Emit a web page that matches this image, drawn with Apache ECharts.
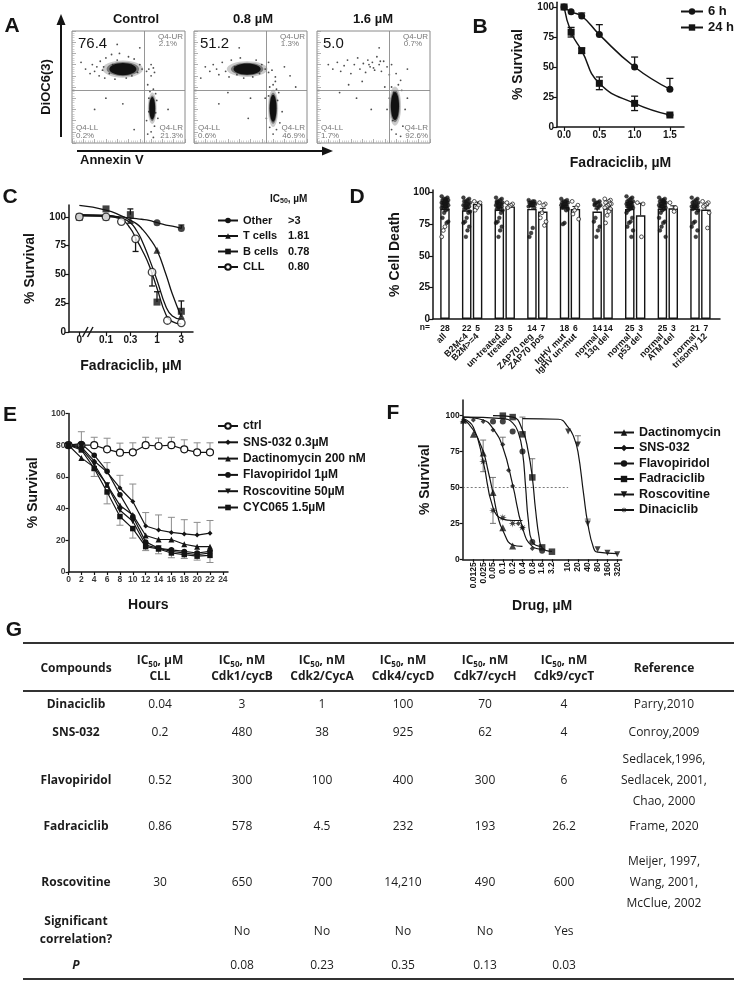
<!DOCTYPE html>
<html><head><meta charset="utf-8">
<script src="https://cdn.jsdelivr.net/npm/echarts@6/dist/echarts.min.js"></script>
<style>html,body{margin:0;padding:0;background:#fff}#c{width:734px;height:983px}</style>
</head><body><div id="c"></div>
<script>
// ================= DATA =================
// A: flow cytometry
const flowTitles = ['Control', '0.8 µM', '1.6 µM'];
const flowUL = ['76.4', '51.2', '5.0'];
const flowUR = ['2.1%', '1.3%', '0.7%'];
const flowLL = ['0.2%', '0.6%', '1.7%'];
const flowLR = ['21.3%', '46.9%', '92.6%'];
const flowGate = [64, 47];
// dense populations: [cx, cy, rx, ry]
const flowBlobs = [
  [[45, 66, 12, 5.5], [71, 31, 2.6, 10]],
  [[47, 66, 12, 5], [70, 31, 3, 12]],
  [[69, 33, 3.6, 12.5]]
];
const flowDots = [
  [[12,66],[16,62],[18,70],[20,64],[22,68],[24,60],[25,73],[27,65],[29,58],[30,76],[33,62],[35,79],[38,57],[40,74],[42,80],[48,58],[50,77],[53,60],[55,75],[58,63],[60,70],[62,66],[66,64],[68,66],[70,60],[72,67],[73,63],[70,70],[67,52],[69,46],[72,48],[74,44],[68,40],[75,38],[66,20],[73,15],[70,10],[76,22],[72,5],[67,8],[30,40],[45,35],[55,12],[20,30],[85,30],[40,88],[60,85],[8,72],[68,28],[74,27],[36,70],[52,70],[28,68]],
  [[10,68],[14,64],[17,70],[20,66],[22,61],[25,72],[28,64],[31,59],[33,74],[36,68],[38,61],[41,76],[44,58],[52,59],[55,74],[58,62],[60,70],[63,66],[66,63],[69,65],[72,59],[66,72],[80,68],[85,60],[70,52],[73,48],[67,50],[75,45],[72,55],[63,40],[50,40],[70,8],[73,12],[67,14],[76,18],[64,22],[78,28],[30,45],[22,35],[48,22],[90,50],[40,85],[6,58],[66,42],[74,38]],
  [[10,70],[14,66],[18,72],[21,64],[24,69],[27,74],[30,62],[33,70],[36,76],[38,66],[41,71],[43,63],[45,74],[47,68],[49,72],[51,65],[53,77],[55,70],[57,64],[59,73],[62,68],[64,61],[66,70],[70,62],[74,56],[80,66],[28,52],[40,55],[60,50],[66,50],[72,52],[75,47],[68,45],[64,40],[62,30],[78,30],[76,15],[66,12],[70,8],[74,6],[67,20],[80,40],[48,30],[35,40],[20,45],[55,85],[46,70],[50,67],[56,73]]
];

// B
const bDose = [0, 0.1, 0.25, 0.5, 1.0, 1.5];
const b6h = [100, 96, 92.5, 77, 50, 31.5];
const b6hErrUp = [0, 0, 2.5, 8.3, 8.3, 9];
const b24h = [100, 79, 63.6, 36.4, 19.7, 10];
const b24hErr = [0, 4, 2.2, 5.3, 6, 0.5];

// C
const cNames = ['Other', 'T cells', 'B cells', 'CLL'];
const cIC50 = ['>3', '1.81', '0.78', '0.80'];
const cOtherDose = [0, 0.1, 1, 3];      const cOther = [100, 100, 95, 90];   const cOtherErr = [0, 0, 0, 3];
const cTDose = [0, 0.1, 0.3, 1, 3];     const cT = [100, 100, 97, 71, 14];  const cTErr = [0, 0, 0, 0, 0];
const cBDose = [0, 0.1, 0.3, 1, 3];     const cB = [100, 107, 102, 26, 18]; const cBErr = [0, 0, 5, 9, 9];
const cCLLDose = [0, 0.1, 0.2, 0.38, 0.8, 1.6, 3]; const cCLL = [100, 100, 96, 81, 52, 10, 8]; const cCLLErr = [0, 0, 0, 11, 12, 0, 0];
// fitted curves
const cFitDose = [0, 0.1, 0.2, 0.3, 0.4, 0.5, 0.7, 1, 1.5, 2, 3];
const cOtherFit = [101.5, 101, 100, 99, 98.5, 98, 97, 95, 93, 92, 90];
const cTFit = [110, 106, 101, 97, 94, 90, 82, 71, 50, 33, 13];
const cBFit = [102, 101.5, 99, 95, 88, 80, 64, 45, 22, 14, 11];
const cCLLFit = [101, 100.5, 98, 90, 80, 72, 58, 38, 15, 9, 7];

// D
const dGroups = [['all'], ['B2M<4', 'B2M>=4'], ['un-treated', 'treated'], ['ZAP70 neg', 'ZAP70 pos'],
  ['IgHV mut', 'IgHV un-mut'], ['normal', '13q del'], ['normal', 'p53 del'], ['normal', 'ATM del'], ['normal', 'trisomy 12']];
const dN = [[28], [22, 5], [23, 5], [14, 7], [18, 6], [14, 14], [25, 3], [25, 3], [21, 7]];
const dMean = [[87], [86, 91], [86.5, 89], [87, 85], [88.5, 87], [85, 87.5], [87, 82], [87, 87.5], [87, 86.5]];
const dSem = [[1.5], [1.5, 1.5], [1.5, 1], [2, 2.5], [1.2, 2], [2, 1.5], [1.3, 9.5], [1.3, 2], [1.5, 3]];
const dDots = [
  [[97,96,95,95,94,94,93,93,92,92,92,91,91,90,90,89,89,88,88,87,86,84,80,77,76,73,70,65]],
  [[96,95,94,93,93,92,91,91,90,90,89,88,88,87,85,84,80,77,76,73,70,65], [93,92,90,88,86]],
  [[96,95,94,93,92,92,91,91,90,90,89,88,88,87,86,84,80,77,76,73,70,65,93], [92,91,90,89,88]],
  [[94,93,93,92,92,91,91,90,90,89,88,72,68,65], [92,91,90,84,80,77,74]],
  [[95,94,93,93,92,92,91,91,90,90,89,89,88,88,87,86,76,75], [93,90,88,86,83,79]],
  [[94,93,92,92,91,90,89,88,80,77,73,70,65,90], [95,94,93,92,92,91,91,90,89,88,87,85,82,76]],
  [[97,96,95,94,93,93,92,92,91,91,90,90,89,89,88,88,87,86,84,80,77,76,73,70,65], [92,91,65]],
  [[96,95,94,94,93,92,92,91,91,90,90,89,89,88,88,87,86,84,80,77,76,73,70,65,93], [92,88,85]],
  [[96,95,94,93,92,92,91,90,90,89,89,88,88,87,86,84,77,76,73,70,65], [93,92,91,90,89,84,72]]
];

// E
const eHours = [0, 2, 4, 6, 8, 10, 12, 14, 16, 18, 20, 22];
const eHourTicks = [0, 2, 4, 6, 8, 10, 12, 14, 16, 18, 20, 22, 24];
const eNames = ['ctrl', 'SNS-032 0.3µM', 'Dactinomycin 200 nM', 'Flavopiridol 1µM', 'Roscovitine 50µM', 'CYC065 1.5µM'];
const eCtrl = [80, 80, 80, 77.4, 75.3, 75.5, 80, 79.5, 80, 77.4, 75.5, 75.5];
const eCtrlErrUp = [0, 0, 5, 7, 6, 6, 5, 5, 5, 6, 6, 6];
const eSNS = [80, 79, 70, 63, 53, 44.5, 29, 26.5, 25, 24, 23.3, 24.5];
const eSNSErrUp = [0, 0, 0, 6, 8, 11, 8.5, 9.5, 9.5, 9, 8, 8];
const eDact = [80, 72, 66, 55, 42, 36, 23, 20.5, 20.5, 17.5, 16, 16];
const eFlavo = [80, 81, 73.7, 63.6, 48.8, 35, 19, 15, 14, 13, 12, 13];
const eFlavoErrUp = [0, 7.5, 0, 0, 0, 0, 0, 0, 0, 0, 0, 0];
const eRosc = [80, 78, 68, 54.7, 39, 32, 17, 15, 13, 12, 11, 12];
const eCYC = [80, 77, 65.3, 50.5, 35, 27.4, 16, 14.5, 12, 11, 10, 10.5];
const eCYCErrDn = [0, 0, 5, 7.5, 5.5, 6, 2.5, 3, 3, 2.5, 2.5, 4.5];

// F
const fTicks = [0.0125, 0.025, 0.05, 0.1, 0.2, 0.4, 0.8, 1.6, 3.2, 10, 20, 40, 80, 160, 320];
const fTickLabels = ['0.0125', '0.025', '0.05', '0.1', '0.2', '0.4', '0.8', '1.6', '3.2', '10', '20', '40', '80', '160', '320'];
const fNames = ['Dactinomycin', 'SNS-032', 'Flavopiridol', 'Fadraciclib', 'Roscovitine', 'Dinaciclib'];
const fDactPts = [[0.00625, 97], [0.0125, 87], [0.025, 74], [0.05, 46.5], [0.1, 22], [0.2, 9.3]];
const fSNSPts = [[0.0125, 97], [0.025, 96], [0.05, 90], [0.1, 80], [0.15, 62], [0.2, 51], [0.3, 25], [0.4, 22], [0.8, 7.6]];
const fFlavoPts = [[0.05, 96], [0.1, 96], [0.2, 89], [0.4, 75], [0.8, 12], [1.6, 6]];
const fFadraPts = [[0.1, 100], [0.2, 99], [0.4, 87], [0.8, 57], [1.6, 8.3], [3.2, 5.3]];
const fRoscPts = [[10, 89], [20, 80], [40, 25], [80, 7], [160, 4.5], [320, 3.5]];
const fDinaPts = [[0.00625, 96], [0.025, 68], [0.05, 34], [0.1, 29], [0.2, 25], [0.4, 22]];
const fDactFit = [[0.006, 98], [0.0125, 90], [0.025, 75], [0.035, 62], [0.05, 46], [0.07, 30], [0.1, 20], [0.2, 10], [0.4, 9]];
const fSNSFit = [[0.006, 99], [0.025, 97], [0.05, 91], [0.1, 78], [0.2, 52], [0.4, 22], [0.8, 9], [1.6, 7]];
const fFlavoFit = [[0.006, 99], [0.1, 98], [0.2, 95], [0.3, 88], [0.4, 75], [0.5, 50], [0.6, 28], [0.8, 12], [1.6, 9]];
const fFadraFit = [[0.05, 100], [0.2, 99], [0.4, 90], [0.6, 75], [0.8, 57], [1.0, 35], [1.3, 15], [1.6, 8], [3.2, 5.5]];
const fRoscFit = [[0.4, 98], [5, 97.5], [10, 92], [15, 85], [20, 75], [30, 45], [40, 25], [60, 8], [80, 5], [320, 4]];
const fDinaFit = [[0.006, 98], [0.0125, 92], [0.025, 68], [0.05, 36], [0.1, 28], [0.2, 27], [0.4, 27]];
const fErr = [ // [dose, value, down, up]
  [0.025, 74, 0, 9], [0.05, 46.5, 0, 10.5], [0.025, 68, 7, 0], [0.05, 34, 9, 0],
  [0.1, 80, 0, 5], [0.8, 57, 0, 13], [0.4, 87, 0, 12], [20, 80, 0, 6], [40, 25, 0, 3]
];
const fRefLine = 50;

// G table
const tblCols = ['Compounds', 'IC{s|50}, µM\nCLL', 'IC{s|50}, nM\nCdk1/cycB', 'IC{s|50}, nM\nCdk2/CycA', 'IC{s|50}, nM\nCdk4/cycD', 'IC{s|50}, nM\nCdk7/cycH', 'IC{s|50}, nM\nCdk9/cycT', 'Reference'];
const compounds = ['Dinaciclib', 'SNS-032', 'Flavopiridol', 'Fadraciclib', 'Roscovitine'];
const ic50CLL = ['0.04', '0.2', '0.52', '0.86', '30'];
const cdk1 = ['3', '480', '300', '578', '650'];
const cdk2 = ['1', '38', '100', '4.5', '700'];
const cdk4 = ['100', '925', '400', '232', '14,210'];
const cdk7 = ['70', '62', '300', '193', '490'];
const cdk9 = ['4', '4', '6', '26.2', '600'];
const refs = ['Parry,2010', 'Conroy,2009', 'Sedlacek,1996,\nSedlacek, 2001,\nChao, 2000', 'Frame, 2020', 'Meijer, 1997,\nWang, 2001,\nMcClue, 2002'];
const sigCorr = ['No', 'No', 'No', 'No', 'Yes'];
const pVals = ['0.08', '0.23', '0.35', '0.13', '0.03'];

// ================= STYLE / LAYOUT =================
const FONT = '"Liberation Sans", Arial, sans-serif';
const TFONT = '"Open Sans", "Noto Sans", sans-serif';
const K = '#141414';
const SYM_DOWN = 'path://M0,0L10,0L5,9Z';
const SYM_STAR = 'path://M5,0L5.7,3.3L8.5,1.5L6.7,4.3L10,5L6.7,5.7L8.5,8.5L5.7,6.7L5,10L4.3,6.7L1.5,8.5L3.3,5.7L0,5L3.3,4.3L1.5,1.5L4.3,3.3Z';

function merge(a, b) {
  const o = Array.isArray(a) ? a.slice() : Object.assign({}, a);
  for (const k in b) {
    if (b[k] && typeof b[k] === 'object' && !Array.isArray(b[k]) && a && typeof a[k] === 'object' && !Array.isArray(a[k])) o[k] = merge(a[k], b[k]);
    else o[k] = b[k];
  }
  return o;
}
function axis(extra) {
  return merge({
    axisLine: {show: true, onZero: false, lineStyle: {color: K, width: 1.5}},
    axisTick: {show: true, length: 4, lineStyle: {color: K, width: 1.2}},
    axisLabel: {color: K, fontFamily: FONT, fontWeight: 'bold', fontSize: 9, margin: 3, hideOverlap: false},
    splitLine: {show: false},
    nameLocation: 'middle',
    nameTextStyle: {color: K, fontFamily: FONT, fontWeight: 'bold', fontSize: 14}
  }, extra);
}
const grids = [], xAxes = [], yAxes = [], series = [], legends = [], graphics = [];
function addGrid(r) { grids.push(Object.assign({outerBoundsMode: 'none', containLabel: false}, r)); return grids.length - 1; }
function addX(a) { xAxes.push(a); return xAxes.length - 1; }
function addY(a) { yAxes.push(a); return yAxes.length - 1; }
function errSeries(xi, yi, pts, color, cap, lw) {
  return {
    type: 'custom', xAxisIndex: xi, yAxisIndex: yi, silent: true, z: 1, data: pts,
    encode: {x: 0, y: 1},
    renderItem(params, api) {
      const x = api.value(0), y = api.value(1), dn = api.value(2), up = api.value(3);
      const c = api.coord([x, y]);
      const ch = [];
      const st = {stroke: color, lineWidth: lw};
      if (up > 0) {
        const p = api.coord([x, y + up]);
        ch.push({type: 'line', shape: {x1: c[0], y1: c[1], x2: c[0], y2: p[1]}, style: st});
        ch.push({type: 'line', shape: {x1: c[0] - cap, y1: p[1], x2: c[0] + cap, y2: p[1]}, style: st});
      }
      if (dn > 0) {
        const p = api.coord([x, y - dn]);
        ch.push({type: 'line', shape: {x1: c[0], y1: c[1], x2: c[0], y2: p[1]}, style: st});
        ch.push({type: 'line', shape: {x1: c[0] - cap, y1: p[1], x2: c[0] + cap, y2: p[1]}, style: st});
      }
      return {type: 'group', children: ch};
    }
  };
}
function txt(x, y, text, o) {
  graphics.push({type: 'text', x, y, silent: true, style: Object.assign({text, fill: K, font: 'bold 13px ' + FONT, textAlign: 'center', textVerticalAlign: 'middle'}, o || {})});
}
function line(x1, y1, x2, y2, w, c) {
  graphics.push({type: 'line', silent: true, shape: {x1, y1, x2, y2}, style: {stroke: c || K, lineWidth: w}});
}

// ---------- Panel letters ----------
[['A', 12, 26], ['B', 480, 27], ['C', 10, 197], ['D', 357, 197], ['E', 10, 415], ['F', 393, 413], ['G', 14, 630]]
  .forEach(([t, x, y]) => txt(x, y, t, {font: 'bold 21px ' + FONT}));

// ---------- A ----------
const FLOW_LEFT = [72, 194, 317], FLOW_TOP = 31, FLOW_W = 113, FLOW_H = 112;
const FLOW_TITLE_X = [136, 253, 373];
flowTitles.forEach((t, i) => {
  const gi = addGrid({left: FLOW_LEFT[i], top: FLOW_TOP, width: FLOW_W, height: FLOW_H, show: true, borderColor: '#8a8a8a', borderWidth: 1});
  const tick = {show: true, inside: true, length: 4, lineStyle: {color: '#9a9a9a', width: 0.8}};
  const minor = {show: true, splitNumber: 5, length: 2.5, lineStyle: {color: '#b0b0b0', width: 0.6}};
  const xi = addX({type: 'value', gridIndex: gi, min: 0, max: 100, interval: 10, axisLine: {show: false}, axisLabel: {show: false}, splitLine: {show: false}, axisTick: tick, minorTick: minor});
  const yi = addY({type: 'value', gridIndex: gi, min: 0, max: 100, interval: 10, axisLine: {show: false}, axisLabel: {show: false}, splitLine: {show: false}, axisTick: tick, minorTick: minor});
  series.push({
    type: 'custom', xAxisIndex: xi, yAxisIndex: yi, silent: true, data: flowBlobs[i], encode: {x: 0, y: 1},
    renderItem(params, api) {
      const c = api.coord([api.value(0), api.value(1)]);
      const s = api.size([api.value(2), api.value(3)]);
      return {type: 'group', children: [
        {type: 'ellipse', shape: {cx: c[0], cy: c[1], rx: s[0] * 1.5, ry: s[1] * 1.4}, style: {fill: 'rgba(20,20,20,0.22)'}},
        {type: 'ellipse', shape: {cx: c[0], cy: c[1], rx: s[0] * 1.2, ry: s[1] * 1.15}, style: {fill: 'rgba(20,20,20,0.45)'}},
        {type: 'ellipse', shape: {cx: c[0], cy: c[1], rx: s[0], ry: s[1]}, style: {fill: '#111'}}
      ]};
    }
  });
  series.push({
    type: 'scatter', xAxisIndex: xi, yAxisIndex: yi, silent: true, data: flowDots[i], symbolSize: 1.8,
    itemStyle: {color: '#222'},
    markLine: {silent: true, symbol: 'none', label: {show: false}, lineStyle: {color: '#8a8a8a', width: 0.9, type: 'solid'},
      data: [{xAxis: flowGate[0]}, {yAxis: flowGate[1]}]}
  });
  const L = FLOW_LEFT[i], R = L + FLOW_W, T = FLOW_TOP, B = T + FLOW_H;
  txt(FLOW_TITLE_X[i], 19, t, {font: 'bold 13px ' + FONT});
  txt(L + 6, T + 13, flowUL[i], {font: '15px ' + FONT, textAlign: 'left'});
  const g = {font: '8px ' + FONT, fill: '#777', textAlign: 'right'};
  txt(R - 2, T + 6, 'Q4-UR', g);
  txt(R - 8, T + 13, flowUR[i], g);
  txt(L + 4, B - 15, 'Q4-LL', Object.assign({}, g, {textAlign: 'left'}));
  txt(L + 4, B - 7, flowLL[i], Object.assign({}, g, {textAlign: 'left'}));
  txt(R - 2, B - 15, 'Q4-LR', g);
  txt(R - 2, B - 7, flowLR[i], g);
});
// arrows
line(61, 137, 61, 22, 2);
graphics.push({type: 'polygon', silent: true, shape: {points: [[56.5, 25], [65.5, 25], [61, 14]]}, style: {fill: K}});
line(77, 151, 324, 151, 2);
graphics.push({type: 'polygon', silent: true, shape: {points: [[322, 146.5], [322, 155.5], [333, 151]]}, style: {fill: K}});
graphics.push({type: 'text', x: 46, y: 87, rotation: Math.PI / 2, silent: true, style: {text: 'DiOC6(3)', fill: K, font: 'bold 13px ' + FONT, textAlign: 'center', textVerticalAlign: 'middle'}});
txt(80, 160, 'Annexin V', {textAlign: 'left'});

// ---------- B ----------
{
  const gi = addGrid({left: 557, top: 2.2, width: 127, height: 124.8});
  const xi = addX(axis({type: 'value', gridIndex: gi, min: -0.1, max: 1.7, name: 'Fadraciclib, µM', nameGap: 29,
    axisLabel: {customValues: [0, 0.5, 1, 1.5], formatter: v => v.toFixed(1), fontSize: 10}, axisTick: {customValues: [0, 0.5, 1, 1.5]}}));
  const yi = addY(axis({type: 'value', gridIndex: gi, min: 0, max: 104, name: '% Survival', nameGap: 32,
    axisLabel: {customValues: [0, 25, 50, 75, 100], fontSize: 10}, axisTick: {customValues: [0, 25, 50, 75, 100]}}));
  const base = {type: 'line', xAxisIndex: xi, yAxisIndex: yi, smooth: 0.5, symbolSize: 7, lineStyle: {color: K, width: 1.5}, itemStyle: {color: K}, z: 3};
  series.push(Object.assign({}, base, {name: '6 h', symbol: 'circle', data: bDose.map((d, i) => [d, b6h[i]])}));
  series.push(Object.assign({}, base, {name: '24 h', symbol: 'rect', data: bDose.map((d, i) => [d, b24h[i]])}));
  series.push(errSeries(xi, yi, bDose.map((d, i) => [d, b6h[i], 0, b6hErrUp[i]]), K, 3.5, 1.3));
  series.push(errSeries(xi, yi, bDose.map((d, i) => [d, b24h[i], b24hErr[i], b24hErr[i]]), K, 3.5, 1.3));
  legends.push({left: 675, top: 0, orient: 'vertical', itemWidth: 22, itemHeight: 8, itemGap: 3, data: ['6 h', '24 h'],
    textStyle: {fontFamily: FONT, fontWeight: 'bold', fontSize: 13, color: K}});
}

// ---------- C ----------
{
  const C_ZERO = 0.03; // position of the "0" dose on the broken log axis
  const cx = d => (d === 0 ? C_ZERO : d);
  const gi = addGrid({left: 69, top: 205, width: 124, height: 127});
  const xi = addX(axis({type: 'log', logBase: 10, gridIndex: gi, min: 0.0188, max: 5.08, name: 'Fadraciclib, µM', nameGap: 27,
    axisLabel: {customValues: [C_ZERO, 0.1, 0.3, 1, 3], fontSize: 10, formatter: v => (v < 0.05 ? '0' : String(+(+v).toPrecision(2)))},
    axisTick: {customValues: [C_ZERO, 0.1, 0.3, 1, 3]}}));
  const yi = addY(axis({type: 'value', gridIndex: gi, min: 0, max: 110.4, name: '% Survival', nameGap: 32,
    axisLabel: {customValues: [0, 25, 50, 75, 100], fontSize: 10}, axisTick: {customValues: [0, 25, 50, 75, 100]}}));
  const syms = ['circle', 'triangle', 'rect', 'circle'];
  const fits = [cOtherFit, cTFit, cBFit, cCLLFit];
  const doses = [cOtherDose, cTDose, cBDose, cCLLDose];
  const vals = [cOther, cT, cB, cCLL];
  const errs = [cOtherErr, cTErr, cBErr, cCLLErr];
  cNames.forEach((n, k) => {
    const isc = { color: k === 3 ? '#fff' : K, borderColor: K, borderWidth: k === 3 ? 1.3 : 0 };
    series.push({type: 'line', name: n, xAxisIndex: xi, yAxisIndex: yi, smooth: 0.5, symbol: syms[k], symbolSize: 7, showSymbol: false,
      lineStyle: {color: K, width: 1.3}, itemStyle: isc, z: 2, data: cFitDose.map((d, i) => [cx(d), fits[k][i]])});
    series.push(errSeries(xi, yi, doses[k].map((d, i) => [cx(d), vals[k][i], k === 3 ? errs[k][i] : 0, k === 3 ? 0 : errs[k][i]]), K, 3, 1.3));
    series.push({type: 'scatter', xAxisIndex: xi, yAxisIndex: yi, symbol: syms[k], symbolSize: k === 3 ? 7.5 : 7, itemStyle: isc, z: 4,
      data: doses[k].map((d, i) => [cx(d), vals[k][i]])});
  });
  legends.push({left: 212, top: 210, orient: 'vertical', itemWidth: 20, itemHeight: 7, itemGap: 4.5, data: cNames,
    formatter: n => `{n|${n}}{v|${cIC50[cNames.indexOf(n)]}}`,
    textStyle: {fontFamily: FONT, fontWeight: 'bold', fontSize: 11, color: K,
      rich: {n: {width: 45, fontFamily: FONT, fontWeight: 'bold', fontSize: 11}, v: {fontFamily: FONT, fontWeight: 'bold', fontSize: 11}}}});
  graphics.push({type: 'text', x: 270, y: 199, silent: true, style: {text: 'IC{s|50}, µM', fill: K, font: 'bold 10px ' + FONT, textAlign: 'left', textVerticalAlign: 'middle',
    rich: {s: {fontSize: 7, fontWeight: 'bold', fontFamily: FONT, verticalAlign: 'bottom', padding: [4, 0, 0, 0]}}}});
  // axis break mark
  graphics.push({type: 'rect', silent: true, shape: {x: 85, y: 330, width: 8, height: 4}, style: {fill: '#fff'}});
  line(82.5, 337, 88, 327, 1.4);
  line(87.5, 337, 93, 327, 1.4);
}

// ---------- D ----------
{
  const D_MIN = -1.1, D_MAX = 25.3;
  const gi = addGrid({left: 433, top: 190, width: 287, height: 129});
  const pos = [], labels = [], nLab = [], means = [], sems = [], dots = [];
  dGroups.forEach((grp, g) => grp.forEach((name, j) => {
    const p = g === 0 ? 0 : 3 * g - 1 + j;
    pos.push(p); labels.push(name); nLab.push(String(dN[g][j])); means.push(dMean[g][j]); sems.push(dSem[g][j]);
    dDots[g][j].forEach((v, q) => dots.push({value: [p + (((q * 7) % 9) - 4) * 0.075, v], open: j === 1 || g === 0 && v < 75}));
  }));
  // empty end labels keep every real label away from the min/max-label overlap rule
  const labelVals = [D_MIN].concat(pos, [D_MAX]);
  const lookup = arr => v => { const i = pos.findIndex(p => Math.abs(p - v) < 1e-6); return i < 0 ? '' : arr[i]; };
  const xi = addX(axis({type: 'value', gridIndex: gi, min: D_MIN, max: D_MAX, axisTick: {show: false},
    axisLabel: {customValues: labelVals, formatter: lookup(nLab), fontSize: 8.5, margin: 5}}));
  addX(axis({type: 'value', gridIndex: gi, min: D_MIN, max: D_MAX, axisLine: {show: false}, axisTick: {show: false}, position: 'bottom',
    axisLabel: {customValues: labelVals, formatter: lookup(labels), fontSize: 9, rotate: 45, margin: 16}}));
  const yi = addY(axis({type: 'value', gridIndex: gi, min: 0, max: 102, name: '% Cell Death', nameGap: 31,
    axisLabel: {customValues: [0, 25, 50, 75, 100], fontSize: 10}, axisTick: {customValues: [0, 25, 50, 75, 100]}}));
  series.push({type: 'bar', xAxisIndex: xi, yAxisIndex: yi, barWidth: 9.5, data: pos.map((p, i) => [p, means[i]]),
    itemStyle: {color: '#fff', borderColor: K, borderWidth: 1.4}, z: 2});
  series.push(errSeries(xi, yi, pos.map((p, i) => [p, means[i], 0, sems[i]]), K, 3, 1));
  series.push({type: 'scatter', xAxisIndex: xi, yAxisIndex: yi, symbol: 'circle', symbolSize: 3.8, z: 4,
    data: dots.map(d => ({value: d.value, itemStyle: d.open ? {color: '#fff', borderColor: K, borderWidth: 0.9} : {color: K, borderColor: K, borderWidth: 0.5}}))});
  txt(430, 328, 'n=', {font: 'bold 8.5px ' + FONT, textAlign: 'right'});
}

// ---------- E ----------
{
  const gi = addGrid({left: 68.5, top: 413.5, width: 159.5, height: 158.5});
  const lab = {fontSize: 8.5, color: '#3a3a3a'};
  const xi = addX(axis({type: 'value', gridIndex: gi, min: 0, max: 24.8, name: 'Hours', nameGap: 26,
    axisLabel: Object.assign({customValues: eHourTicks}, lab), axisTick: {customValues: eHourTicks, length: 3}}));
  const yi = addY(axis({type: 'value', gridIndex: gi, min: 0, max: 100, name: '% Survival', nameGap: 28,
    axisLabel: Object.assign({customValues: [0, 20, 40, 60, 80, 100]}, lab), axisTick: {customValues: [0, 20, 40, 60, 80, 100], length: 3}}));
  const vals = [eCtrl, eSNS, eDact, eFlavo, eRosc, eCYC];
  const syms = ['circle', 'diamond', 'triangle', 'circle', SYM_DOWN, 'rect'];
  const sizes = [7, 5, 6, 5.5, 6, 5.5];
  const GRAY = '#8c8c8c';
  series.push(errSeries(xi, yi, eHours.map((h, i) => [h, eCtrl[i], 0, eCtrlErrUp[i]]), GRAY, 3.5, 1));
  series.push(errSeries(xi, yi, eHours.map((h, i) => [h, eSNS[i], 0, eSNSErrUp[i]]), GRAY, 3.5, 1));
  series.push(errSeries(xi, yi, eHours.map((h, i) => [h, eFlavo[i], 0, eFlavoErrUp[i]]), GRAY, 3.5, 1));
  series.push(errSeries(xi, yi, eHours.map((h, i) => [h, eCYC[i], eCYCErrDn[i], 0]), GRAY, 3.5, 1));
  eNames.forEach((n, k) => series.push({type: 'line', name: n, xAxisIndex: xi, yAxisIndex: yi, symbol: syms[k], symbolSize: sizes[k],
    lineStyle: {color: K, width: 1.2}, itemStyle: k === 0 ? {color: '#fff', borderColor: K, borderWidth: 1.2} : {color: K}, z: 3,
    data: eHours.map((h, i) => [h, vals[k][i]])}));
  legends.push({left: 212, top: 415, orient: 'vertical', itemWidth: 20, itemHeight: 7, itemGap: 4.3, data: eNames,
    textStyle: {fontFamily: FONT, fontWeight: 'bold', fontSize: 12, color: K}});
}

// ---------- F ----------
{
  const gi = addGrid({left: 462.7, top: 400, width: 159, height: 159.3});
  const fmt = v => { const i = fTicks.findIndex(t => Math.abs(Math.log2(t) - Math.log2(v)) < 0.02); return i < 0 ? '' : fTickLabels[i]; };
  const xi = addX(axis({type: 'log', logBase: 2, gridIndex: gi, min: 0.0059, max: 438, name: 'Drug, µM', nameGap: 40,
    axisLabel: {customValues: fTicks, formatter: fmt, rotate: 90, fontSize: 8.5, margin: 3}, axisTick: {customValues: fTicks, length: 3}}));
  const yi = addY(axis({type: 'value', gridIndex: gi, min: 0, max: 110.9, name: '% Survival', nameGap: 31,
    axisLabel: {customValues: [0, 25, 50, 75, 100], fontSize: 8.5}, axisTick: {customValues: [0, 25, 50, 75, 100], length: 3}}));
  const pts = [fDactPts, fSNSPts, fFlavoPts, fFadraPts, fRoscPts, fDinaPts];
  const fits = [fDactFit, fSNSFit, fFlavoFit, fFadraFit, fRoscFit, fDinaFit];
  const syms = ['triangle', 'diamond', 'circle', 'rect', SYM_DOWN, SYM_STAR];
  const sizes = [7, 5, 6, 6.5, 6, 8];
  series.push(errSeries(xi, yi, fErr, '#666', 3, 0.9));
  fNames.forEach((n, k) => {
    series.push({type: 'line', name: n, xAxisIndex: xi, yAxisIndex: yi, smooth: 0.5, showSymbol: false, symbol: syms[k], symbolSize: sizes[k],
      lineStyle: {color: K, width: 1.2}, itemStyle: {color: K}, z: 2, data: fits[k],
      markLine: k === 0 ? {silent: true, symbol: 'none', label: {show: false}, lineStyle: {color: '#444', width: 0.7, type: [2, 2]},
        data: [[{coord: [0.0059, fRefLine]}, {coord: [10, fRefLine]}]]} : undefined});
    series.push({type: 'scatter', xAxisIndex: xi, yAxisIndex: yi, symbol: syms[k], symbolSize: sizes[k], itemStyle: {color: K}, z: 4, data: pts[k]});
  });
  legends.push({left: 608, top: 421, orient: 'vertical', itemWidth: 20, itemHeight: 8, itemGap: 2.5, data: fNames,
    textStyle: {fontFamily: FONT, fontWeight: 'bold', fontSize: 12.5, color: K}});
}

// ---------- G table ----------
{
  const COL_X = [76, 160, 242, 322, 403, 485, 564, 664];
  const RULE_X0 = 23, RULE_X1 = 734;
  line(RULE_X0, 643, RULE_X1, 643, 2.2, '#333');
  line(RULE_X0, 691, RULE_X1, 691, 2.2, '#333');
  line(RULE_X0, 979, RULE_X1, 979, 2.2, '#333');
  const tf = (b) => (b ? 'bold ' : '') + '12px ' + TFONT;
  const rich = {s: {fontSize: 8, fontFamily: TFONT, verticalAlign: 'bottom', padding: [5, 0, 0, 0]}};
  tblCols.forEach((h, c) => {
    graphics.push({type: 'text', x: COL_X[c], y: 669, silent: true, style: {text: h, fill: '#1c1c1c', font: tf(true), textAlign: 'center', textVerticalAlign: 'middle', lineHeight: 16, rich: {s: Object.assign({}, rich.s, {fontWeight: 'bold'})}}});
  });
  const ROW_Y = [705, 733, 781, 827, 883];
  const cols = [compounds, ic50CLL, cdk1, cdk2, cdk4, cdk7, cdk9, refs];
  compounds.forEach((_, r) => cols.forEach((col, c) => {
    graphics.push({type: 'text', x: COL_X[c], y: ROW_Y[r], silent: true, style: {text: col[r], fill: '#1c1c1c', font: tf(c === 0), textAlign: 'center', textVerticalAlign: 'middle', lineHeight: 21}});
  }));
  graphics.push({type: 'text', x: COL_X[0], y: 931, silent: true, style: {text: 'Significant\ncorrelation?', fill: '#1c1c1c', font: tf(true), textAlign: 'center', textVerticalAlign: 'middle', lineHeight: 18}});
  graphics.push({type: 'text', x: COL_X[0], y: 966, silent: true, style: {text: 'P', fill: '#1c1c1c', font: 'italic bold 12px ' + TFONT, textAlign: 'center', textVerticalAlign: 'middle'}});
  sigCorr.forEach((s, i) => {
    graphics.push({type: 'text', x: COL_X[i + 2], y: 932, silent: true, style: {text: s, fill: '#1c1c1c', font: tf(false), textAlign: 'center', textVerticalAlign: 'middle'}});
    graphics.push({type: 'text', x: COL_X[i + 2], y: 966, silent: true, style: {text: pVals[i], fill: '#1c1c1c', font: tf(false), textAlign: 'center', textVerticalAlign: 'middle'}});
  });
}

const chart = echarts.init(document.getElementById('c'), null, {renderer: 'canvas'});
chart.setOption({
  animation: false,
  backgroundColor: '#fff',
  textStyle: {fontFamily: FONT},
  grid: grids, xAxis: xAxes, yAxis: yAxes, series, legend: legends,
  graphic: {elements: graphics}
});
</script>
</body></html>
